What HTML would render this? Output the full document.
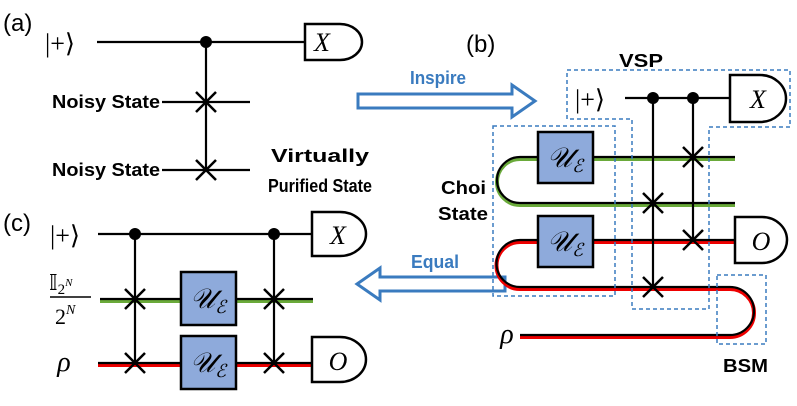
<!DOCTYPE html>
<html><head><style>body{margin:0;background:#fff}</style></head><body>
<svg width="797" height="401" viewBox="0 0 797 401" xmlns="http://www.w3.org/2000/svg" font-family="Liberation Sans, sans-serif">
<defs>
<g id="x"><path d="M-10,-10L10,10M10,-10L-10,10" stroke="#000" stroke-width="2.5"/></g>
</defs>
<g font-size="24" fill="#000">
<text x="3" y="31">(a)</text><text x="466" y="52">(b)</text><text x="3" y="231">(c)</text>
</g>
<!-- panel a -->
<g stroke="#000" stroke-width="2.2" fill="none">
<path d="M97,42H305M162,102H250M162,170H250M206,42V170"/>
<path d="M305,24V60H340A22,18 0 0 0 340,24Z" fill="#fff" stroke-width="2.5"/>
</g>
<circle cx="206" cy="42" r="6"/>
<use href="#x" x="206" y="102"/><use href="#x" x="206" y="170"/>
<text x="45" y="52" font-size="26" font-family="Liberation Serif, serif">|+⟩</text>
<text x="322" y="51" font-size="26" font-style="italic" font-family="Liberation Serif, serif" text-anchor="middle">X</text>
<g font-weight="bold" font-size="18">
<text x="52" y="108" textLength="108" lengthAdjust="spacingAndGlyphs">Noisy State</text>
<text x="52" y="176" textLength="108" lengthAdjust="spacingAndGlyphs">Noisy State</text>
<text x="271" y="162" textLength="98" lengthAdjust="spacingAndGlyphs">Virtually</text>
<text x="268" y="192" textLength="104" lengthAdjust="spacingAndGlyphs">Purified State</text>
<text x="619" y="67" textLength="44" lengthAdjust="spacingAndGlyphs">VSP</text>
<text x="723" y="372" textLength="45" lengthAdjust="spacingAndGlyphs">BSM</text>
<text x="441" y="194" textLength="45" lengthAdjust="spacingAndGlyphs">Choi</text>
<text x="438" y="220" textLength="50" lengthAdjust="spacingAndGlyphs">State</text>
</g>
<!-- arrows -->
<path d="M358,94H512V85L535,101L512,117V108H358Z" fill="#fff" stroke="#3a7bbf" stroke-width="3"/>
<text x="410" y="84" fill="#3a7bbf" font-weight="bold" font-size="18" textLength="56" lengthAdjust="spacingAndGlyphs">Inspire</text>
<path d="M505,277H380V268L357,284L380,300V291H505Z" fill="#fff" stroke="#3a7bbf" stroke-width="3"/>
<text x="411" y="268" fill="#3a7bbf" font-weight="bold" font-size="18" textLength="48" lengthAdjust="spacingAndGlyphs">Equal</text>
<!-- panel b -->
<g fill="none">
<path d="M735,159H520A23,23 0 0 0 520,205H735" stroke="#6aaa3a" stroke-width="4"/>
<path d="M735,157H520A23,23 0 0 0 520,203H735" stroke="#000" stroke-width="2.2"/>
<path d="M735,242H520A23,23 0 0 0 520,289H730A24,24 0 0 1 730,337H520" stroke="#e00" stroke-width="4"/>
<path d="M735,240H520A23,23 0 0 0 520,287H730A24,24 0 0 1 730,335H520" stroke="#000" stroke-width="2.2"/>
<path d="M625,98H730M653,98V287M693,98V240" stroke="#000" stroke-width="2.2"/>
<path d="M730,75V122H760A26,23.5 0 0 0 760,75Z" fill="#fff" stroke="#000" stroke-width="2.5"/>
<path d="M735,217V263H762A25,23 0 0 0 762,217Z" fill="#fff" stroke="#000" stroke-width="2.5"/>
</g>
<circle cx="653" cy="98" r="6"/><circle cx="693" cy="98" r="6"/>
<use href="#x" x="653" y="203"/><use href="#x" x="653" y="287"/><use href="#x" x="693" y="157"/><use href="#x" x="693" y="240"/>
<g fill="#8eaadb" stroke="#000" stroke-width="2.5"><rect x="538" y="132" width="55" height="51"/><rect x="538" y="216" width="55" height="51"/></g>
<g font-family="Liberation Serif, serif" font-style="italic" font-size="28" text-anchor="middle">
<text x="565" y="167">𝒰<tspan font-size="18" dy="5">ℰ</tspan></text><text x="565" y="251">𝒰<tspan font-size="18" dy="5">ℰ</tspan></text>
<text x="758" y="108" font-size="26">X</text><text x="761" y="250" font-size="26">O</text>
<text x="507" y="343">ρ</text>
</g>
<text x="575" y="108" font-size="26" font-family="Liberation Serif, serif">|+⟩</text>
<g fill="none" stroke="#3a7bbf" stroke-width="1.5" stroke-dasharray="4,3">
<path d="M567,70H790V127H709V309H632V119H567Z"/>
<rect x="493" y="126" width="122" height="170"/>
<rect x="717" y="275" width="49" height="69"/>
</g>
<!-- panel c -->
<g fill="none">
<path d="M100,301H313" stroke="#6aaa3a" stroke-width="4"/><path d="M100,299H313" stroke="#000" stroke-width="2.2"/>
<path d="M98,365H312" stroke="#e00" stroke-width="4"/><path d="M98,363H312" stroke="#000" stroke-width="2.2"/>
<path d="M98,234H312M135,234V363M274,234V363" stroke="#000" stroke-width="2.2"/>
<path d="M312,212V256H340A26,22 0 0 0 340,212Z" fill="#fff" stroke="#000" stroke-width="2.5"/>
<path d="M312,337V382H340A26,22.5 0 0 0 340,337Z" fill="#fff" stroke="#000" stroke-width="2.5"/>
</g>
<circle cx="135" cy="234" r="6"/><circle cx="274" cy="234" r="6"/>
<use href="#x" x="135" y="299"/><use href="#x" x="135" y="363"/><use href="#x" x="274" y="299"/><use href="#x" x="274" y="363"/>
<g fill="#8eaadb" stroke="#000" stroke-width="2.5"><rect x="181" y="272" width="55" height="53"/><rect x="181" y="336" width="55" height="53"/></g>
<g font-family="Liberation Serif, serif" font-style="italic" font-size="28" text-anchor="middle">
<text x="208" y="308">𝒰<tspan font-size="18" dy="5">ℰ</tspan></text><text x="208" y="372">𝒰<tspan font-size="18" dy="5">ℰ</tspan></text>
<text x="338" y="244" font-size="26">X</text><text x="338" y="370" font-size="26">O</text>
<text x="64" y="371">ρ</text>
</g>
<text x="50" y="244" font-size="26" font-family="Liberation Serif, serif">|+⟩</text>
<g font-family="Liberation Serif, serif" font-size="22">
<text x="49" y="290">𝕀<tspan font-size="15" dy="4">2</tspan><tspan font-size="11" dy="-8" font-style="italic">N</tspan></text>
<path d="M50,297H91" stroke="#000" stroke-width="1.5"/>
<text x="55" y="324">2<tspan font-size="14" dy="-10" font-style="italic">N</tspan></text>
</g>
</svg>
</body></html>
